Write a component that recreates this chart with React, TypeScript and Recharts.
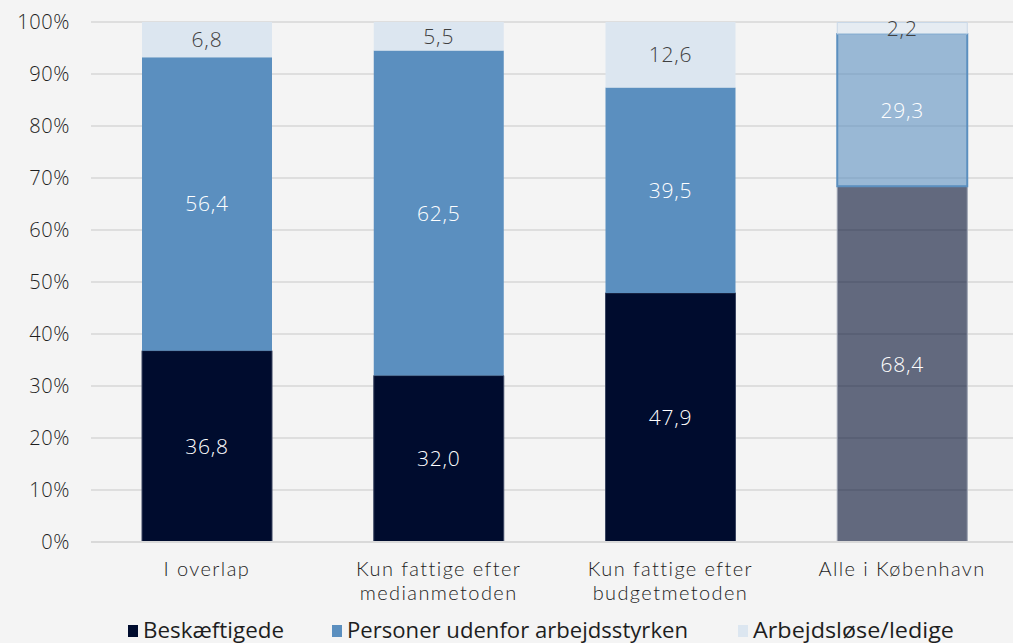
import React from 'react';
import { BarChart, Bar, XAxis, YAxis, CartesianGrid, Cell, LabelList } from 'recharts';

const categories = [
    ['I overlap'],
    ['Kun fattige efter', 'medianmetoden'],
    ['Kun fattige efter', 'budgetmetoden'],
    ['Alle i København'],
];
const employed = [36.8, 32.0, 47.9, 68.4];
const outsideWorkforce = [56.4, 62.5, 39.5, 29.3];
const unemployed = [6.8, 5.5, 12.6, 2.2];
const yTicks = [0, 10, 20, 30, 40, 50, 60, 70, 80, 90, 100];

const seriesNames = ['Beskæftigede', 'Personer udenfor arbejdsstyrken', 'Arbejdsløse/ledige'];
const COLORS = ['#000c2e', '#5b8fbf', '#dce6f0'];

const data = categories.map((c, i) => ({
    name: c.join('\n'),
    employed: employed[i],
    outside: outsideWorkforce[i],
    unemployed: unemployed[i],
}));

const FONT = '"Open Sans", Lato, sans-serif';
const TICK_FONT = 'Lato, "Open Sans", sans-serif';
const fmt = (v: any) => Number(v).toFixed(1).replace('.', ',');

// legend layout (marker x, text width)
const legendX = [128, 332, 738];
const legendW = [141, 341, 201];

const XTick = (props: any) => {
    const { x, y, payload } = props;
    const lines = String(payload.value).split('\n');
    return (
        <g>
            {lines.map((l, i) => (
                <text key={i} x={x} y={y + 26 + i * 24} textAnchor="middle" fill="#1e1e1e" fontSize={20} fontWeight={300} letterSpacing={1.4} fontFamily={TICK_FONT}>
                    {l}
                </text>
            ))}
        </g>
    );
};

const labelProps = { position: 'center' as const, formatter: fmt, fontSize: 21, fontWeight: 300, fontFamily: FONT, letterSpacing: 0.8 };

export default function App() {
    const last = categories.length - 1;
    return (
        <div style={{ position: 'absolute', left: 0, top: 0, width: 1013, height: 643, overflow: 'hidden', background: '#f4f4f4' }}>
            <BarChart width={1030} height={643} data={data} margin={{ top: 22, right: 12, left: 0, bottom: 0 }} barSize={130}>
                <CartesianGrid vertical={false} stroke="#dedede" strokeWidth={2} />
                <XAxis
                    dataKey="name"
                    height={101}
                    tick={<XTick />}
                    tickLine={false}
                    axisLine={{ stroke: '#d9d9d9', strokeWidth: 2 }}
                    interval={0}
                />
                <YAxis
                    width={91}
                    domain={[0, 100]}
                    ticks={yTicks}
                    tickFormatter={(v) => `${v}%`}
                    axisLine={false}
                    tickLine={false}
                    tickSize={0}
                    tickMargin={21}
                    tick={{ fill: '#1e1e1e', fontSize: 20, fontWeight: 300, fontFamily: FONT, letterSpacing: 0.6 }}
                />
                <Bar dataKey="employed" stackId="a" fill={COLORS[0]} isAnimationActive={false}>
                    {data.map((_, i) => (
                        <Cell key={i} fill={COLORS[0]} fillOpacity={i === last ? 0.6 : 1} stroke={i === last ? '#9aa0b0' : '#3a4560'} strokeWidth={1} />
                    ))}
                    <LabelList dataKey="employed" {...labelProps} fill="#ffffff" />
                </Bar>
                <Bar dataKey="outside" stackId="a" fill={COLORS[1]} isAnimationActive={false}>
                    {data.map((_, i) => (
                        <Cell key={i} fill={COLORS[1]} fillOpacity={i === last ? 0.6 : 1} stroke={i === last ? '#5b8fbf' : 'none'} strokeWidth={2} />
                    ))}
                    <LabelList dataKey="outside" {...labelProps} fill="#ffffff" />
                </Bar>
                <Bar dataKey="unemployed" stackId="a" fill={COLORS[2]} isAnimationActive={false}>
                    {data.map((_, i) => (
                        <Cell key={i} fill={COLORS[2]} fillOpacity={i === last ? 0.6 : 1} stroke={i === last ? '#c9d8e8' : 'none'} strokeWidth={1} />
                    ))}
                    <LabelList dataKey="unemployed" {...labelProps} fill="#404040" />
                </Bar>
            </BarChart>
            <svg width={1013} height={30} style={{ position: 'absolute', left: 0, top: 613 }}>
                {seriesNames.map((n, i) => (
                    <g key={n}>
                        <rect x={legendX[i]} y={12} width={10} height={12} fill={COLORS[i]} />
                        <text
                            x={legendX[i] + 15}
                            y={25}
                            fontFamily={FONT}
                            fontSize={21}
                            fill="#1e1e1e"
                            textLength={legendW[i]}
                            lengthAdjust="spacingAndGlyphs"
                        >
                            {n}
                        </text>
                    </g>
                ))}
            </svg>
        </div>
    );
}
